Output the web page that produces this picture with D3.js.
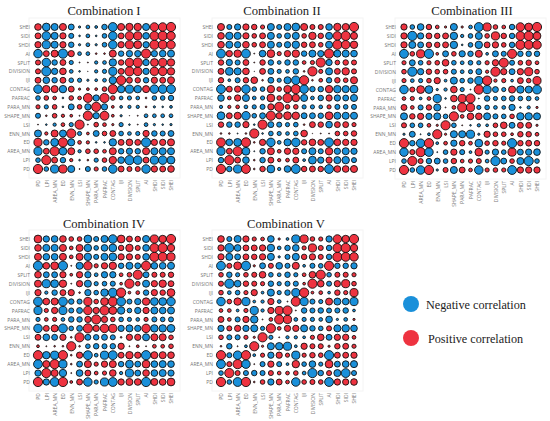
<!DOCTYPE html>
<html>
<head>
<meta charset="utf-8">
<script src="https://cdn.jsdelivr.net/npm/d3@7"></script>
<style>
  body { margin: 0; background: #fff; }
  svg { display: block; }
  .tick text { font-family: "Open Sans", sans-serif; font-size: 5px; fill: #777; }
</style>
</head>
<body>
<div id="chart"></div>
<script>
// variable order, PD first. Picture reads bottom-up on y, left-right on x
const variables = ["PD", "LPI", "AREA_MN", "ED", "ENN_MN", "LSI", "SHAPE_MN", "PARA_MN", "PAFRAC",
  "CONTAG", "IJI", "DIVISION", "SPLIT", "AI", "SHDI", "SIDI", "SHEI"];

// correlations as a triangle: each row holds the values against the variables before it
const combination1 = [
  [],
  [-.4],
  [-.85, .55],
  [.85, -.5, -.8],
  [-.7, .25, .7, -.7],
  [.05, -.1, -.25, .3, -.35],
  [-.45, .1, .4, .25, .2, .05],
  [.35, -.35, .4, -.1, -.55, .4, -.6],
  [-.4, .4, .3, -.1, .4, .3, .95, -.6],
  [-.9, .75, .7, -.75, .55, .15, .2, .2, .4],
  [.55, -.65, -.5, .55, -.4, -.35, -.15, -.2, -.3, -.75],
  [.45, -1, -.6, .65, -.3, -.1, .02, -.25, -.35, -.85, .55],
  [.45, -.9, -.5, .55, -.35, .05, .05, -.25, -.3, -.75, .5, .9],
  [-.9, .55, .7, -1, .6, -.3, -.3, .1, .1, .7, -.5, -.6, -.6],
  [.6, -.85, -.7, .6, -.5, -.15, -.3, -.15, -.4, -.9, .6, .85, .8, -.6],
  [.55, -.9, -.7, .6, -.45, -.1, -.3, -.1, -.4, -.9, .55, .9, .85, -.65, .95],
  [.65, -.8, -.7, .7, -.55, -.15, -.3, -.2, -.5, -.95, .7, .75, .75, -.7, .9, .9]
];

const combination2 = [
  [],
  [-.5],
  [-.85, .55],
  [.95, -.65, -.8],
  [.1, .1, -.05, .1],
  [.5, -.5, -.5, .6, -.1],
  [-.8, .55, .7, -.9, -.4, -.55],
  [-.25, .25, .3, -.3, -.35, -.45, .6],
  [-.65, .3, .6, -.7, -.3, -.35, .8, .4],
  [-.95, .55, .6, -.9, -.4, -.4, .75, .4, .75],
  [.5, -.2, -.45, .5, .65, .1, -.55, -.35, -.7, -.9],
  [.55, -.8, -.7, .65, .02, .55, -.55, -.35, -.3, -.5, .1],
  [.5, -.6, -.45, .55, .05, .5, -.5, -.3, -.5, -.5, .3, .35],
  [-.95, .6, .75, -.95, .05, -.65, .8, .35, .6, .75, -.5, -.7, -.6],
  [.65, -.7, -.6, .65, .4, .55, -.7, -.45, -.6, -.75, .5, .55, .4, -.7],
  [.65, -.75, -.7, .6, .4, .55, -.7, -.4, -.55, -.7, .4, .75, .5, -.7, .9],
  [.7, -.45, -.6, .6, .5, .35, -.7, -.45, -.7, -.8, .7, .45, .45, -.65, .75, .7]
];

const combination3 = [
  [],
  [-.4],
  [-.9, .45],
  [1, -.5, -.9],
  [-.15, -.55, -.05, -.2],
  [.45, -.4, -.4, .3, .15],
  [-.7, .5, .6, -.6, -.7, -.4],
  [.55, .3, -.45, .5, -.7, .05, .3],
  [.3, .35, -.2, .3, -.85, -.1, .65, .85],
  [-.9, .45, .8, -.8, -.15, -.25, .65, -.35, -.05],
  [.35, -.3, -.35, .4, .6, -.2, -.7, -.4, -.5, -.85],
  [.4, -1, -.6, .5, .4, .4, -.45, -.3, -.35, -.55, .25],
  [.35, -.55, -.4, .35, .4, .65, -.4, -.3, -.4, -.35, .35, .6],
  [-.95, .4, .85, -1, .2, -.55, .4, -.6, -.5, .7, -.2, -.55, -.45],
  [.6, -.7, -.55, .5, .5, .55, -.75, -.1, -.4, -.75, .55, .6, .4, -.5],
  [.6, -1, -.6, .55, .5, .55, -.75, -.25, -.4, -.7, .4, .85, .5, -.5, .95],
  [.6, -.4, -.65, .5, .3, .15, -.7, .15, -.3, -.95, .85, .4, .3, -.5, .9, .8]
];

const combination4 = [
  [],
  [-.6],
  [-.95, .7],
  [1, -.75, -.85],
  [.2, .05, .1, .1],
  [.55, -.65, -.55, .6, .1],
  [-.9, .55, .7, -.95, -.4, -.55],
  [-.35, .3, .35, -.3, -.5, -.5, .6],
  [-.85, .35, .6, -.85, -.45, -.55, .9, .6],
  [-.95, .65, .7, -.95, -.5, -.45, .85, .4, .8],
  [.6, -.25, -.5, .55, .6, .1, -.6, -.4, -.75, -.95],
  [.7, -.85, -.8, .75, .05, .6, -.7, -.35, -.4, -.45, .2],
  [.65, -.55, -.55, .6, .2, .6, -.6, -.3, -.6, -.6, .3, .4],
  [-1, .65, .8, -1, .05, -.7, .9, .35, .6, .75, -.5, -.7, -.55],
  [.7, -.65, -.65, .7, .3, .7, -.75, -.45, -.7, -.8, .6, .6, .45, -.65],
  [.65, -.7, -.7, .7, .3, .7, -.75, -.4, -.65, -.8, .5, .75, .45, -.65, .95],
  [.8, -.6, -.65, .65, .4, .4, -.8, -.45, -.7, -.9, .8, .55, .5, -.7, .85, .75]
];

const combination5 = [
  [],
  [-.4],
  [-.95, .45],
  [1, -.45, -.9],
  [.1, -.5, .05, -.2],
  [.4, -.45, -.45, .35, .15],
  [-.6, .45, .6, -.6, -.7, -.35],
  [.55, .3, -.45, .6, -.75, .05, .3],
  [.3, .3, -.2, .35, -.85, -.25, .6, .85],
  [-.9, .4, .75, -.85, -.2, -.25, .6, -.3, .05],
  [.4, -.3, -.4, .35, .6, -.2, -.7, -.35, -.5, -.85],
  [.45, -1, -.65, .5, .45, .35, -.5, -.35, -.45, -.45, .2],
  [.4, -.5, -.35, .4, .45, .65, -.4, -.3, -.5, -.35, .3, .65],
  [-.95, .45, .8, -1, .15, -.55, .45, -.65, -.45, .7, -.2, -.45, -.4],
  [.6, -.7, -.55, .55, .5, .6, -.7, -.15, -.45, -.7, .5, .6, .45, -.5],
  [.6, -.95, -.65, .55, .55, .6, -.75, -.3, -.5, -.65, .35, .85, .45, -.5, .95],
  [.65, -.45, -.7, .6, .35, .3, -.65, .15, -.2, -.85, .85, .4, .35, -.6, .9, .75]
];

const titles = ["Combination I", "Combination II", "Combination III", "Combination IV", "Combination V"];
const legendLabels = ["Negative correlation", "Positive correlation"];

const blue = "#1a90da";
const red = "#ee3340";

const svg = d3.select("#chart")
  .append("svg")
    .attr("width", 550)
    .attr("height", 421);

svg.append("rect").attr("width", 550).attr("height", 421).attr("fill", "#fff");

// panel boxes: centre of first and last cell, plus the title centre
const panels = [
  {data: combination1, x0: 38, x1: 171, y0: 27, y1: 169, tx: 104, ty: 15},
  {data: combination2, x0: 221, x1: 354, y0: 27, y1: 169, tx: 282, ty: 15},
  {data: combination3, x0: 404, x1: 537, y0: 27, y1: 170, tx: 472, ty: 15},
  {data: combination4, x0: 38, x1: 171, y0: 239, y1: 382, tx: 104, ty: 228},
  {data: combination5, x0: 221, x1: 354, y0: 239, y1: 382, tx: 286, ty: 228}
];

// radius grows a bit faster than the value so that weak cells still show as dots
const rs = d3.scalePow().exponent(0.75).domain([0, 1]).range([0, 4.6]);

panels.forEach((p, k) => {
  const g = svg.append("g");

  const xs = d3.scalePoint().domain(variables).range([p.x0, p.x1]);
  const ys = d3.scalePoint().domain(variables).range([p.y1, p.y0]);

  // faint panel frame
  g.append("rect")
    .attr("x", p.x0 - 9)
    .attr("y", p.y0 - 9)
    .attr("width", p.x1 - p.x0 + 18)
    .attr("height", p.y1 - p.y0 + 18)
    .attr("fill", "#fff")
    .attr("stroke", "#f4f4f4");

  // AXIS
  const yAxis = g.append("g")
    .attr("transform", `translate(${p.x0 - 8},0)`)
    .call(d3.axisLeft(ys).tickSize(0).tickPadding(0));
  yAxis.select(".domain").remove();

  const xAxis = g.append("g")
    .attr("transform", `translate(0,${p.y1 + 11})`)
    .call(d3.axisBottom(xs).tickSize(0).tickPadding(0));
  xAxis.select(".domain").remove();
  xAxis.selectAll("text")
    .attr("transform", "rotate(-90)")
    .attr("x", 0)
    .attr("y", 0)
    .attr("dx", 0)
    .attr("dy", "0.35em")
    .style("text-anchor", "end");

  // fill out the symmetric matrix from the triangle
  const cells = [];
  variables.forEach((rowName, i) => {
    variables.forEach((colName, j) => {
      const v = i == j ? 1 : (i > j ? p.data[i][j] : p.data[j][i]);
      cells.push({rowName, colName, v});
    });
  });

  // DRAW CIRCLES
  g.selectAll("circle")
    .data(cells)
    .enter()
    .append("circle")
    .attr("cx", d => xs(d.colName))
    .attr("cy", d => ys(d.rowName))
    .attr("r", d => rs(Math.abs(d.v)))
    .attr("fill", d => d.v < 0 ? blue : red)
    .attr("stroke", "#111")
    .attr("stroke-width", 0.9);

  //append title
  svg.append("text")
    .attr("x", p.tx)
    .attr("y", p.ty)
    .attr("text-anchor", "middle")
    .text(titles[k])
    .style("font-size", "12.6px")
    .style("font-family", "Liberation Serif")
    .style("fill", "#222");
});

// COLOR LEGEND
const legend = svg.selectAll("g.legend")
  .data(legendLabels)
  .enter()
  .append("g")
  .attr("class", "legend");

legend.append("circle")
  .attr("cx", 411)
  .attr("cy", (d, i) => i == 0 ? 304 : 338)
  .attr("r", 8)
  .style("fill", (d, i) => i == 0 ? blue : red);

legend.append("text")
  .attr("x", (d, i) => i == 0 ? 426 : 428)
  .attr("y", (d, i) => i == 0 ? 309 : 343)
  .text(d => d)
  .style("font-size", "12.2px")
  .style("font-family", "Liberation Serif")
  .style("fill", "#222");
</script>
</body>
</html>
